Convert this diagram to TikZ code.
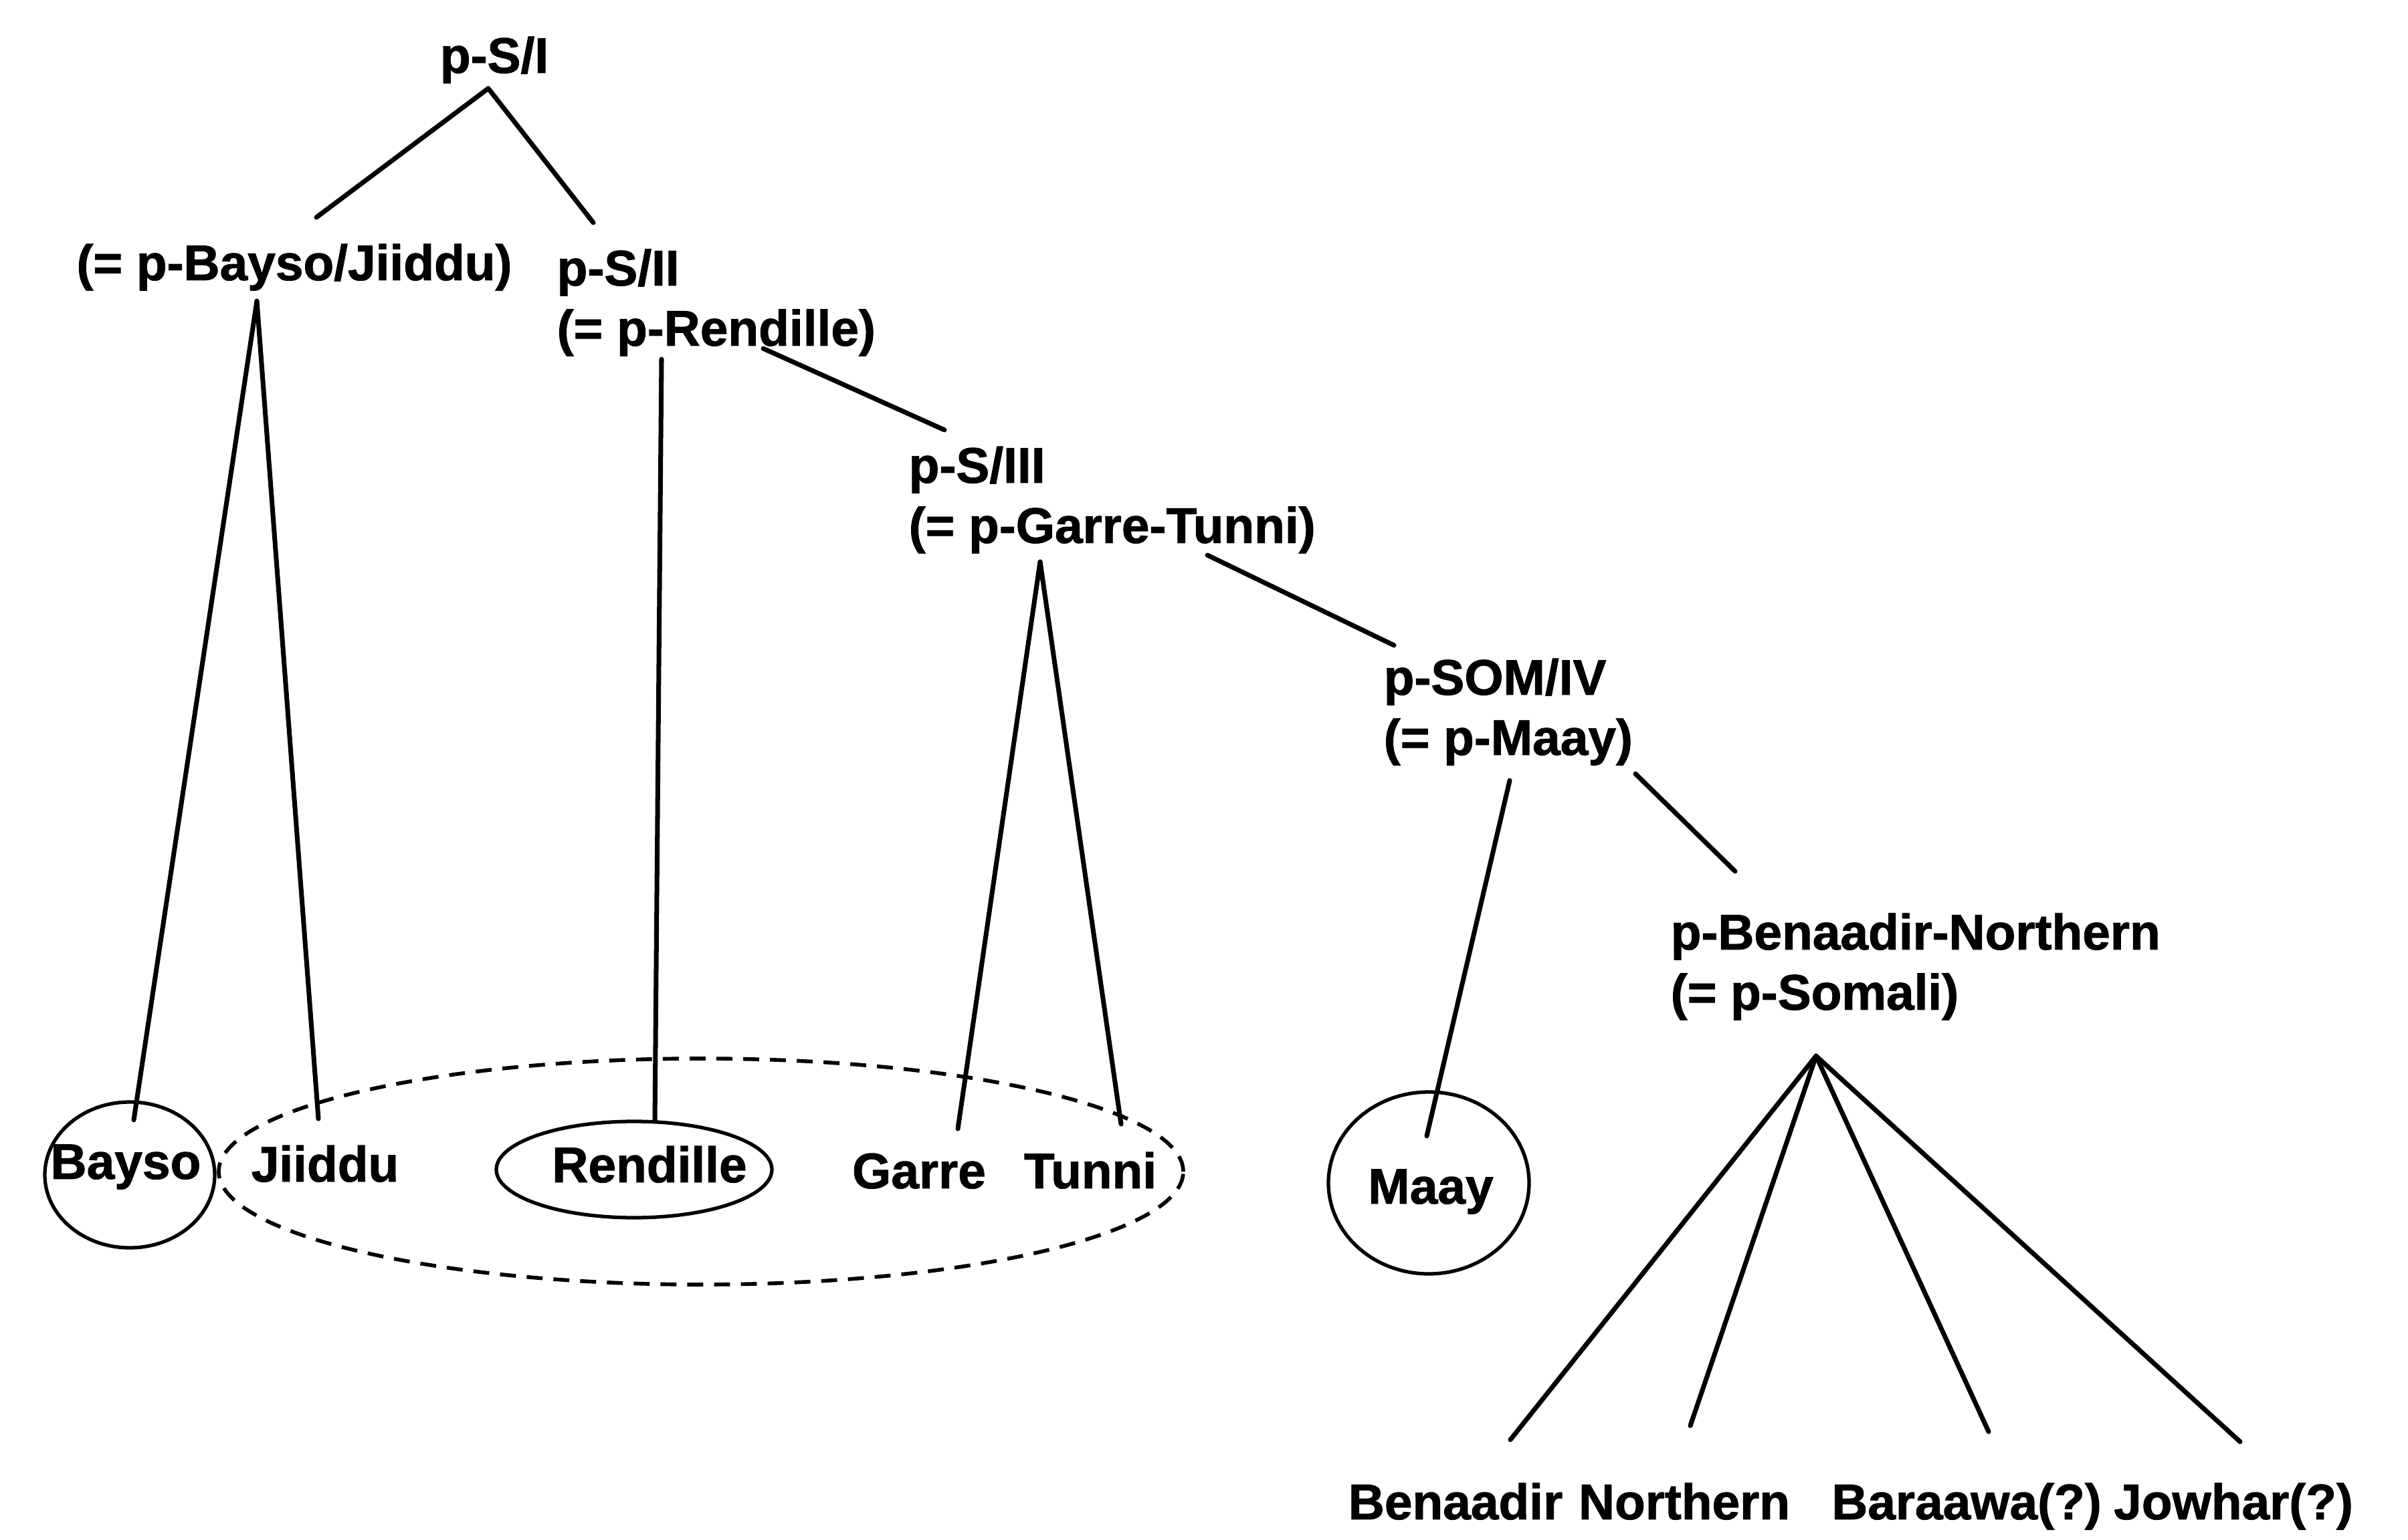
\documentclass[tikz,border=0pt]{standalone}
\usepackage{fontspec}
\setmainfont[BoldFeatures={FakeBold=1.2}]{Liberation Sans}
\usetikzlibrary{positioning}

\begin{document}
\begin{tikzpicture}
		\tikzstyle{Proto} = [inner sep=0pt, align=left, font=\fontsize{21.3pt}{25.6pt}\selectfont\bfseries]
		\tikzstyle{Leaf} = [inner sep=0pt, anchor=base, font=\fontsize{21.3pt}{25.6pt}\selectfont\bfseries]
		\tikzstyle{branch} = [line width=2pt, line cap=round]
		\tikzstyle{ring} = [line width=1.5pt]
		\tikzstyle{dashring} = [line width=1.6pt, dash pattern=on 6.8pt off 4.6pt]

		\useasboundingbox (0,0) rectangle (36,23.02);

		% proto-languages
		\node (psI) [Proto, anchor=base] at (7.39,21.93) {p-S/I};
		\node (pBJ) [Proto, anchor=base] at (4.40,18.83) {(= p-Bayso/Jiiddu)};
		\node (pSII) [Proto, anchor=north west] at (8.32,19.30) {p-S/II\\(= p-Rendille)};
		\node (pSIII) [Proto, anchor=north west] at (13.58,16.35) {p-S/III\\(= p-Garre-Tunni)};
		\node (pSOM) [Proto, anchor=north west] at (20.68,13.18) {p-SOM/IV\\(= p-Maay)};
		\node (pBN) [Proto, anchor=north west] at (24.97,9.37) {p-Benaadir-Northern\\(= p-Somali)};

		% languages
		\node (bayso) [Leaf] at (1.88,5.39) {Bayso};
		\node (jiiddu) [Leaf] at (4.86,5.35) {Jiiddu};
		\node (rendille) [Leaf] at (9.71,5.34) {Rendille};
		\node (garre) [Leaf] at (13.74,5.25) {Garre};
		\node (tunni) [Leaf] at (16.30,5.25) {Tunni};
		\node (maay) [Leaf] at (21.39,5.02) {Maay};
		\node (benaadir) [Leaf] at (21.76,0.30) {Benaadir};
		\node (northern) [Leaf] at (25.18,0.30) {Northern};
		\node (baraawa) [Leaf] at (29.40,0.30) {Baraawa(?)};
		\node (jowhar) [Leaf] at (33.39,0.30) {Jowhar(?)};

		% circles round the languages
		\draw [ring] ([shift={(0.06,0.06)}]bayso.base) ellipse [x radius=1.27, y radius=1.09];
		\draw [ring] ([shift={(-0.23,0.19)}]rendille.base) ellipse [x radius=2.06, y radius=0.72];
		\draw [ring] ([shift={(-0.03,0.31)}]maay.base) ellipse [x radius=1.50, y radius=1.36];
		\draw [dashring] ([shift={(0.77,0.16)}]rendille.base) ellipse [x radius=7.21, y radius=1.69];

		% branches
		\draw [branch] ([shift={(-0.09,-0.07)}]psI.south) -- ([shift={(0.33,0.39)}]pBJ.north);
		\draw [branch] ([shift={(-0.09,-0.07)}]psI.south) -- ([shift={(0.55,0.39)}]pSII.north west);
		\draw [branch] ([shift={(-0.56,-0.15)}]pBJ.south) -- ([shift={(0.12,0.36)}]bayso.north);
		\draw [branch] ([shift={(-0.56,-0.15)}]pBJ.south) -- ([shift={(-0.10,0.39)}]jiiddu.north);
		\draw [branch] ([shift={(1.57,-0.04)}]pSII.south west) -- ([shift={(0.08,0.36)}]rendille.north);
		\draw [branch] ([shift={(3.09,0.12)}]pSII.south west) -- ([shift={(0.54,0.24)}]pSIII.north west);
		\draw [branch] ([shift={(1.97,-0.12)}]pSIII.south west) -- ([shift={(0.58,0.36)}]garre.north);
		\draw [branch] ([shift={(1.97,-0.12)}]pSIII.south west) -- ([shift={(0.46,0.41)}]tunni.north);
		\draw [branch] ([shift={(4.47,-0.02)}]pSIII.south west) -- ([shift={(0.16,0.19)}]pSOM.north west);
		\draw [branch] ([shift={(1.89,-0.22)}]pSOM.south west) -- ([shift={(-0.06,0.49)}]maay.north);
		\draw [branch] ([shift={(3.77,-0.12)}]pSOM.south west) -- ([shift={(0.97,0.62)}]pBN.north west);
		\draw [branch] ([shift={(2.18,-0.53)}]pBN.south west) -- ([shift={(0.82,0.64)}]benaadir.north);
		\draw [branch] ([shift={(2.18,-0.53)}]pBN.south west) -- ([shift={(0.09,0.85)}]northern.north);
		\draw [branch] ([shift={(2.18,-0.53)}]pBN.south west) -- ([shift={(0.33,0.76)}]baraawa.north);
		\draw [branch] ([shift={(2.18,-0.53)}]pBN.south west) -- ([shift={(0.10,0.61)}]jowhar.north);
\end{tikzpicture}
\end{document}
